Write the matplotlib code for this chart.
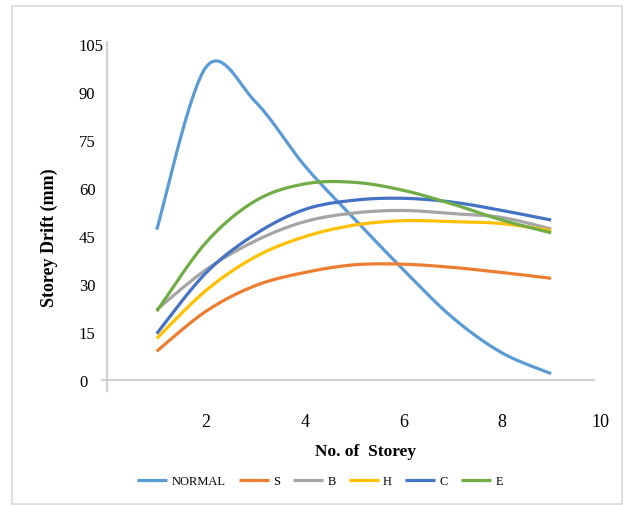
import numpy as np
import matplotlib
matplotlib.use("Agg")
import matplotlib.pyplot as plt
from matplotlib.patches import Rectangle

storeys = [1, 2, 3, 4, 5, 6, 7, 8, 9]
normal = [47, 97.8, 87, 67, 50.5, 34.5, 19.5, 8.5, 2]
s_vals = [9, 21.5, 29.5, 33.6, 36, 36.2, 35.2, 33.6, 31.8]
b_vals = [22, 34.5, 43.5, 49.5, 52.2, 53, 52, 50.8, 47.2]
h_vals = [13, 28, 38.5, 44.8, 48.4, 49.8, 49.5, 48.9, 46.7]
c_vals = [14.5, 33.5, 45.6, 53.3, 56.2, 56.8, 55.6, 53, 50]
e_vals = [21.5, 43, 56, 61.3, 61.8, 59.3, 55, 50, 46]

series_names = ["NORMAL", "S", "B", "H", "C", "E"]
series_vals = [normal, s_vals, b_vals, h_vals, c_vals, e_vals]
colors = ["#5B9BD5", "#ED7D31", "#A5A5A5", "#FFC000", "#4472C4", "#70AD47"]

yticks = [0, 15, 30, 45, 60, 75, 90, 105]
xticks = [2, 4, 6, 8, 10]


def smooth(x, y, n=40):
    x = np.asarray(x, float)
    y = np.asarray(y, float)
    px = np.concatenate([[x[0]], x, [x[-1]]])
    py = np.concatenate([[y[0]], y, [y[-1]]])
    xs, ys = [], []
    t = np.linspace(0, 1, n)
    for i in range(1, len(px) - 2):
        p0x, p1x, p2x, p3x = px[i - 1], px[i], px[i + 1], px[i + 2]
        p0y, p1y, p2y, p3y = py[i - 1], py[i], py[i + 1], py[i + 2]
        c1x = p1x + (p2x - p0x) / 6
        c1y = p1y + (p2y - p0y) / 6
        c2x = p2x - (p3x - p1x) / 6
        c2y = p2y - (p3y - p1y) / 6
        bx = (1 - t) ** 3 * p1x + 3 * (1 - t) ** 2 * t * c1x + 3 * (1 - t) * t ** 2 * c2x + t ** 3 * p2x
        by = (1 - t) ** 3 * p1y + 3 * (1 - t) ** 2 * t * c1y + 3 * (1 - t) * t ** 2 * c2y + t ** 3 * p2y
        xs.append(bx)
        ys.append(by)
    return np.concatenate(xs), np.concatenate(ys)


W, H = 627, 506
fig = plt.figure(figsize=(W / 100, H / 100), dpi=100)
serif = "Liberation Serif"

left_px, right_px = 102, 600.5
top_px, bot_px = 40, 392
ax = fig.add_axes([left_px / W, (H - bot_px) / H, (right_px - left_px) / W, (bot_px - top_px) / H])
ax.set_xlim(-0.11, 10.0)
ax.set_ylim(-3.44, 106.6)

for name, vals, col in zip(series_names, series_vals, colors):
    sx, sy = smooth(storeys, vals)
    ax.plot(sx, sy, color=col, lw=2.3, label=name, solid_capstyle="butt")

for sp in ["top", "right"]:
    ax.spines[sp].set_visible(False)
ax.spines["left"].set_position(("data", 0))
ax.spines["left"].set_bounds(-3.44, 105.6)
ax.spines["bottom"].set_position(("data", 0))
ax.spines["bottom"].set_bounds(-0.11, 9.87)
for sp in ["left", "bottom"]:
    ax.spines[sp].set_color("#d0d0d0")
    ax.spines[sp].set_linewidth(1.5)

ax.set_xticks(xticks)
ax.set_xticklabels([str(v) for v in xticks], fontfamily=serif, fontsize=13)
ax.set_yticks(yticks)
ax.set_yticklabels([str(v) for v in yticks], fontfamily=serif, fontsize=12)
ax.tick_params(axis="x", length=0, pad=24)
ax.tick_params(axis="y", length=0, pad=20.5)
for lab in ax.get_yticklabels():
    lab.set_horizontalalignment("left")
for lab in ax.get_xticklabels():
    lab.set_clip_on(False)

fig.text(366 / W, 1 - 452 / H, "No. of  Storey", fontfamily=serif, fontweight="bold",
         fontsize=12.5, ha="center", va="center")
fig.text(49 / W, 1 - 238 / H, "Storey Drift (mm)", fontfamily=serif, fontweight="bold",
         fontsize=13, ha="center", va="center", rotation=90)

fig.legend(loc="center", bbox_to_anchor=(320 / W, 1 - 482 / H), ncol=6, frameon=False,
           prop={"family": serif, "size": 9}, handlelength=2.4, handletextpad=0.35,
           columnspacing=1.05)

fig.patches.append(Rectangle((12 / W, 1 - 505 / H), 610 / W, 498 / H, transform=fig.transFigure,
                             fill=False, edgecolor="#d9d9d9", lw=1.2))

fig.savefig("out.png", dpi=100)
